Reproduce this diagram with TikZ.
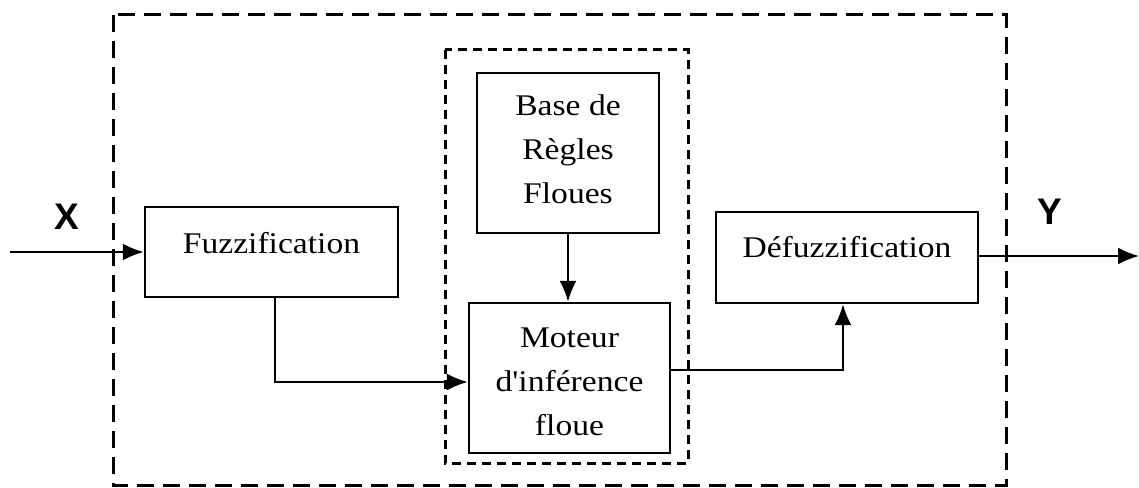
\documentclass[tikz,border=0pt]{standalone}
\usepackage{fontspec}
\newfontfamily\blockfont{Liberation Serif}
\newfontfamily\labelfont{Liberation Sans}
\usetikzlibrary{arrows.meta}
\newcommand{\wide}[1]{\scalebox{1.12}[1]{#1}}

\begin{document}
\begin{tikzpicture}[x=1pt,y=-1pt,
  box/.style={draw, line width=2.4pt, inner sep=0pt},
  txt/.style={font=\blockfont\fontsize{30}{44}\selectfont, inner sep=0pt},
  conn/.style={line width=2.2pt, -{Latex[length=21pt,width=17pt]}},
  io/.style={font=\labelfont\bfseries\fontsize{37}{37}\selectfont, inner sep=0pt},
  outerbox/.style={draw, line width=3pt, dash pattern=on 17pt off 9pt},
  innerbox/.style={draw, line width=3pt, dash pattern=on 9pt off 6pt}]

  \useasboundingbox (0,0) rectangle (1139,487);

  % dashed frames: whole controller and inference part
  \draw[outerbox] (113,15) rectangle (1006,485);
  \draw[innerbox] (445,50) rectangle (688,463);

  % blocks
  \node[box, minimum width=253pt, minimum height=90pt]  (fuz)  at (271.5,252) {};
  \node[box, minimum width=182pt, minimum height=160pt] (base) at (568,153) {};
  \node[box, minimum width=201pt, minimum height=150pt] (mot)  at (569.5,378) {};
  \node[box, minimum width=262pt, minimum height=91pt]  (def)  at (847,257.5) {};

  % block texts
  \node[txt] (tfuz)  at (271.5,243) {\wide{Fuzzification}};
  \node[txt] (tbase) at (568,151) {\wide{\begin{tabular}{@{}c@{}}Base de\\Règles\\Floues\end{tabular}}};
  \node[txt] (tmot)  at (569.5,383) {\wide{\begin{tabular}{@{}c@{}}Moteur\\d'inférence\\floue\end{tabular}}};
  \node[txt] (tdef)  at (847,247) {\wide{Défuzzification}};

  % input and output
  \coordinate (xin)  at (10,252);
  \coordinate (yout) at (1139,256);
  \node[io] (xlab) at (67,217) {X};
  \node[io] (ylab) at (1050,212) {Y};

  % connections
  \draw[conn] (xin) -- (fuz.west);
  \draw[conn] (def.east |- yout) -- (yout);
  \draw[conn] ([xshift=3.5pt]fuz.south) |- ([yshift=-4pt]mot.west);
  \draw[conn] (base.south) -- (base.south |- mot.north);
  \draw[conn] ([yshift=8pt]mot.east) -| ([xshift=-4pt]def.south);
\end{tikzpicture}
\end{document}
